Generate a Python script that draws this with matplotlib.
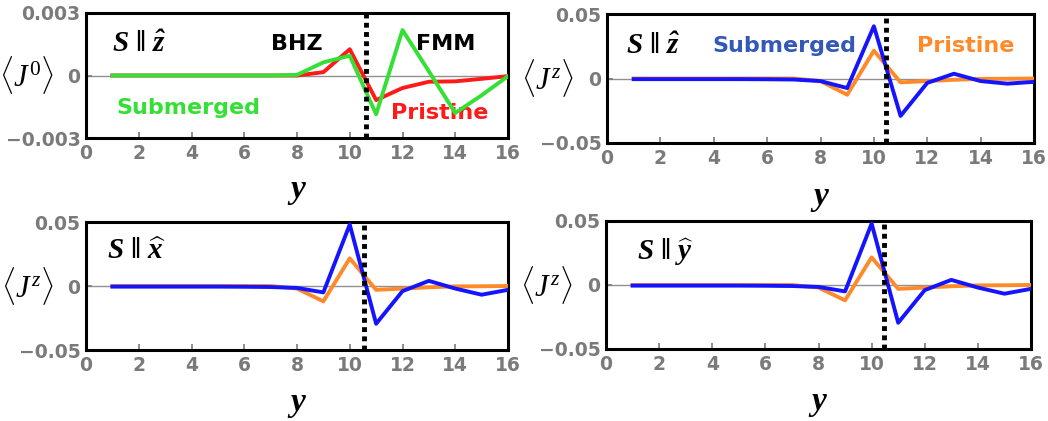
import matplotlib
matplotlib.use("Agg")
import matplotlib.pyplot as plt

plt.rcParams['mathtext.fontset'] = 'custom'
plt.rcParams['mathtext.rm'] = 'Liberation Serif'
plt.rcParams['mathtext.it'] = 'Liberation Serif:italic'
plt.rcParams['mathtext.bf'] = 'Liberation Serif:italic:bold'

y_sites = [1, 2, 3, 4, 5, 6, 7, 8, 9, 10, 11, 12, 13, 14, 15, 16]

# Panel (a): <J^0>, S || z
j0_pristine = [0, 0, 0, 0, 0, 0, 0, 0.0, 0.00016, 0.00126, -0.00118, -0.0006, -0.0003, -0.00028, -0.00016, -0.00003]
j0_submerged = [0, 0, 0, 0, 0, 0, 0, 0.00003, 0.00063, 0.00095, -0.00186, 0.00218, 0.0002, -0.0018, -0.00095, -0.00003]

# Panel (b): <J^z>, S || z
jz_z_pristine = [0, 0, 0, 0, 0, 0, 0, -0.002, -0.0126, 0.0216, -0.003, -0.002, -0.001, -0.0003, -0.0002, 0.0]
jz_z_submerged = [-0.0005, -0.0005, -0.0005, -0.0005, -0.0005, -0.0006, -0.0008, -0.002, -0.0074, 0.0405, -0.029, -0.0034, 0.0037, -0.002, -0.004, -0.0026]

# Panel (c): <J^z>, S || x
jz_x_pristine = [0, 0, 0, 0, 0, 0, 0, -0.002, -0.012, 0.0216, -0.003, -0.002, -0.001, -0.0003, -0.0002, 0.0]
jz_x_submerged = [-0.0005, -0.0005, -0.0005, -0.0005, -0.0005, -0.0006, -0.0008, -0.0015, -0.005, 0.048, -0.0295, -0.004, 0.004, -0.002, -0.0068, -0.003]

# Panel (d): <J^z>, S || y
jz_y_pristine = [0, 0, 0, 0, 0, 0, 0, -0.002, -0.012, 0.0216, -0.003, -0.002, -0.001, -0.0003, -0.0002, 0.0]
jz_y_submerged = [-0.0005, -0.0005, -0.0005, -0.0005, -0.0005, -0.0006, -0.0008, -0.0015, -0.005, 0.048, -0.0295, -0.004, 0.004, -0.002, -0.0068, -0.003]

x_ticks = [0, 2, 4, 6, 8, 10, 12, 14, 16]
y_ticks_a = [-0.003, 0, 0.003]
y_ticklabels_a = ['\u22120.003', '0', '0.003']
y_ticks_b = [-0.05, 0, 0.05]
y_ticklabels_b = ['\u22120.05', '0', '0.05']

RED = '#ff1a1a'
GREEN = '#33e033'
BLUE = '#1414ff'
ORANGE = '#ff8a2a'
GRAY = '#7a7a7a'
SANS = 'DejaVu Sans'

fig = plt.figure(figsize=(10.48, 4.21), dpi=100)
W, H = 1048, 421

def add_ax(l, r, t, b):
    return fig.add_axes([l / W, 1 - b / H, (r - l) / W, (b - t) / H])

axes = [add_ax(86, 508, 13, 138), add_ax(607, 1034, 14, 143),
        add_ax(86, 508, 222, 350), add_ax(606, 1031, 221, 349)]

def style(ax, yt, ytl, ylim, ylabel, dash_x):
    ax.set_xlim(0, 16)
    ax.set_ylim(*ylim)
    ax.axhline(0, color='#909090', lw=1.0, zorder=1)
    ax.axvline(dash_x, color='black', lw=3.5, linestyle=(0, (1, 0.9)), zorder=5)
    ax.set_xticks(x_ticks)
    ax.set_xticklabels([str(v) for v in x_ticks])
    ax.set_yticks(yt)
    ax.set_yticklabels(ytl)
    ax.tick_params(direction='in', length=4, width=1.2, color=GRAY,
                   labelcolor=GRAY, labelsize=13.5, pad=4)
    for lab in ax.get_xticklabels() + ax.get_yticklabels():
        lab.set_fontweight('bold')
        lab.set_family(SANS)
    for s in ax.spines.values():
        s.set_linewidth(2.2)
        s.set_color('black')
    ax.text(-0.14, 0.5, ylabel, transform=ax.transAxes, ha='center', va='center',
            fontsize=22)
    ax.text(0.5, -0.42, r'$\mathbf{y}$', transform=ax.transAxes, ha='center',
            va='center', fontsize=24)

lw = 2.8
tkw = dict(fontsize=16, fontweight='bold', family=SANS, va='center')
skw = dict(fontsize=21, va='center', ha='left')

ax = axes[0]
style(ax, y_ticks_a, y_ticklabels_a, (-0.003, 0.003), r'$\langle J^0\rangle$', 10.6)
ax.plot(y_sites, j0_pristine, color=RED, lw=lw, zorder=3)
ax.plot(y_sites, j0_submerged, color=GREEN, lw=lw, zorder=4)
ax.text(1.0, 0.0015, r'$\mathbf{S\ \|\ \hat{z}}$', **skw)
ax.text(7.0, 0.0015, 'BHZ', **tkw)
ax.text(12.5, 0.0015, 'FMM', **tkw)
ax.text(1.15, -0.00155, 'Submerged', color=GREEN, **tkw)
ax.text(11.55, -0.00178, 'Pristine', color=RED, **tkw)

ax = axes[1]
style(ax, y_ticks_b, y_ticklabels_b, (-0.05, 0.05), r'$\langle J^z\rangle$', 10.45)
ax.plot(y_sites, jz_z_pristine, color=ORANGE, lw=lw, zorder=3)
ax.plot(y_sites, jz_z_submerged, color=BLUE, lw=lw, zorder=4)
ax.text(0.7, 0.0255, r'$\mathbf{S\ \|\ \hat{z}}$', **skw)
ax.text(3.95, 0.0255, 'Submerged', color='#3358b8', **tkw)
ax.text(11.6, 0.0255, 'Pristine', color=ORANGE, **tkw)

ax = axes[2]
style(ax, y_ticks_b, y_ticklabels_b, (-0.05, 0.05), r'$\langle J^z\rangle$', 10.55)
ax.plot(y_sites, jz_x_pristine, color=ORANGE, lw=lw, zorder=3)
ax.plot(y_sites, jz_x_submerged, color=BLUE, lw=lw, zorder=4)
ax.text(0.8, 0.027, r'$\mathbf{S\ \|\ \widehat{x}}$', **skw)

ax = axes[3]
style(ax, y_ticks_b, y_ticklabels_b, (-0.05, 0.05), r'$\langle J^z\rangle$', 10.45)
ax.plot(y_sites, jz_y_pristine, color=ORANGE, lw=lw, zorder=3)
ax.plot(y_sites, jz_y_submerged, color=BLUE, lw=lw, zorder=4)
ax.text(1.15, 0.026, r'$\mathbf{S\ \|\ \widehat{y}}$', **skw)

fig.savefig('out.png', dpi=100)
